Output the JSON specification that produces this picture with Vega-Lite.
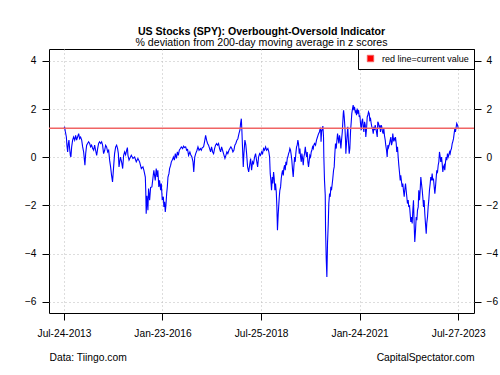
{
 "$schema": "https://vega.github.io/schema/vega-lite/v6.json",
 "width": 425,
 "height": 264,
 "autosize": "none",
 "padding": {"left": 49, "top": 49, "right": 26, "bottom": 62},
 "background": "white",
 "title": {"text": "US Stocks (SPY): Overbought-Oversold Indicator", "subtitle": "% deviation from 200-day moving average in z scores", "anchor": "middle", "font": "Liberation Sans", "fontSize": 10.6, "fontWeight": "bold", "color": "black", "subtitleFont": "Liberation Sans", "subtitleFontSize": 10.6, "subtitleColor": "black", "subtitlePadding": 0, "offset": 0},
 "config": {
  "view": {"stroke": "black", "strokeWidth": 1},
  "font": "Liberation Sans",
  "axis": {"labelFont": "Liberation Sans", "labelFontSize": 10.2, "labelColor": "black", "tickColor": "black", "tickSize": 7, "tickWidth": 1, "domain": false, "gridColor": "#bbbbbb", "gridDash": [1, 3], "gridWidth": 1, "titleFont": "Liberation Sans", "titleFontSize": 10.3, "titleFontWeight": "normal", "titleColor": "black"}
 },
 "datasets": {"spy": [
{"d":"2013-07-24","z":1.2},{"d":"2013-07-30","z":1.24},{"d":"2013-08-06","z":1.05},{"d":"2013-08-15","z":0.84},{"d":"2013-08-20","z":0.5},{"d":"2013-08-27","z":0.22},{"d":"2013-09-02","z":0.57},{"d":"2013-09-08","z":0.71},{"d":"2013-09-14","z":0.36},{"d":"2013-09-21","z":0.08},{"d":"2013-09-26","z":0.01},{"d":"2013-10-03","z":0.43},{"d":"2013-10-12","z":0.71},{"d":"2013-10-21","z":0.84},{"d":"2013-10-31","z":0.71},{"d":"2013-11-09","z":0.91},{"d":"2013-11-18","z":0.71},{"d":"2013-11-27","z":0.84},{"d":"2013-12-07","z":0.98},{"d":"2013-12-16","z":0.77},{"d":"2013-12-25","z":0.84},
{"d":"2014-01-04","z":0.71},{"d":"2014-01-13","z":0.43},{"d":"2014-01-22","z":0.22},{"d":"2014-02-03","z":-0.33},{"d":"2014-02-10","z":0.15},{"d":"2014-02-19","z":0.5},{"d":"2014-02-28","z":0.57},{"d":"2014-03-09","z":0.64},{"d":"2014-03-19","z":0.57},{"d":"2014-03-28","z":0.43},{"d":"2014-04-06","z":0.5},{"d":"2014-04-16","z":0.36},{"d":"2014-04-25","z":0.29},{"d":"2014-05-04","z":0.5},{"d":"2014-05-13","z":0.29},{"d":"2014-05-23","z":0.08},{"d":"2014-06-01","z":0.36},{"d":"2014-06-10","z":0.57},{"d":"2014-06-19","z":0.64},{"d":"2014-06-29","z":0.57},{"d":"2014-07-08","z":0.64},{"d":"2014-07-17","z":0.5},{"d":"2014-07-26","z":0.15},{"d":"2014-08-05","z":0.29},{"d":"2014-08-14","z":0.5},{"d":"2014-08-23","z":0.43},{"d":"2014-09-02","z":0.22},{"d":"2014-09-11","z":0.29},{"d":"2014-09-20","z":-0.12},{"d":"2014-09-29","z":-0.4},{"d":"2014-10-08","z":-0.75},{"d":"2014-10-17","z":-1.02},{"d":"2014-10-27","z":-0.4},{"d":"2014-11-05","z":0.15},{"d":"2014-11-15","z":0.43},{"d":"2014-11-24","z":0.5},{"d":"2014-12-03","z":0.36},{"d":"2014-12-10","z":0.15},{"d":"2014-12-16","z":-0.4},{"d":"2014-12-29","z":0.01},
{"d":"2015-01-09","z":-0.19},{"d":"2015-01-19","z":-0.47},{"d":"2015-01-28","z":0.08},{"d":"2015-02-06","z":0.22},{"d":"2015-02-15","z":0.1},{"d":"2015-02-25","z":0.29},{"d":"2015-03-04","z":0.4},{"d":"2015-03-09","z":0.08},{"d":"2015-03-19","z":-0.12},{"d":"2015-04-09","z":0.08},{"d":"2015-04-24","z":-0.05},{"d":"2015-05-10","z":0.01},{"d":"2015-05-25","z":-0.19},{"d":"2015-06-09","z":-0.05},{"d":"2015-06-25","z":-0.19},{"d":"2015-07-11","z":-0.47},{"d":"2015-07-26","z":-0.4},{"d":"2015-08-04","z":-0.54},{"d":"2015-08-17","z":-0.82},{"d":"2015-08-21","z":-1.4},{"d":"2015-08-25","z":-2.34},{"d":"2015-09-01","z":-1.6},{"d":"2015-09-04","z":-1.78},{"d":"2015-09-10","z":-2.2},{"d":"2015-09-16","z":-1.3},{"d":"2015-09-26","z":-1.78},{"d":"2015-10-05","z":-1.25},{"d":"2015-10-17","z":-1.23},{"d":"2015-10-26","z":-0.88},{"d":"2015-11-04","z":-0.54},{"d":"2015-11-17","z":-0.96},{"d":"2015-11-26","z":-0.47},{"d":"2015-12-05","z":-0.82},{"d":"2015-12-11","z":-0.54},{"d":"2015-12-20","z":-1.23},{"d":"2015-12-27","z":-0.96},
{"d":"2016-01-06","z":-1.37},{"d":"2016-01-12","z":-1.09},{"d":"2016-01-21","z":-1.78},{"d":"2016-01-31","z":-1.64},{"d":"2016-02-05","z":-2.06},{"d":"2016-02-12","z":-1.85},{"d":"2016-02-18","z":-2.27},{"d":"2016-02-24","z":-1.99},{"d":"2016-03-02","z":-1.5},{"d":"2016-03-08","z":-1.23},{"d":"2016-03-14","z":-0.82},{"d":"2016-03-23","z":-0.68},{"d":"2016-03-29","z":-0.47},{"d":"2016-04-08","z":-0.33},{"d":"2016-04-14","z":-0.19},{"d":"2016-04-23","z":-0.12},{"d":"2016-05-03","z":0.01},{"d":"2016-05-12","z":-0.12},{"d":"2016-05-21","z":0.15},{"d":"2016-05-31","z":-0.05},{"d":"2016-06-09","z":0.22},{"d":"2016-06-18","z":0.08},{"d":"2016-06-27","z":0.29},{"d":"2016-07-07","z":0.36},{"d":"2016-07-16","z":0.43},{"d":"2016-07-28","z":0.36},{"d":"2016-08-06","z":0.46},{"d":"2016-08-15","z":0.4},{"d":"2016-08-25","z":0.43},{"d":"2016-09-03","z":0.29},{"d":"2016-09-12","z":0.32},{"d":"2016-09-21","z":0.08},{"d":"2016-10-03","z":0.22},{"d":"2016-10-13","z":0.08},{"d":"2016-10-22","z":0.01},{"d":"2016-11-01","z":-0.19},{"d":"2016-11-08","z":-0.61},{"d":"2016-11-17","z":0.01},{"d":"2016-11-26","z":0.15},{"d":"2016-12-08","z":0.29},{"d":"2016-12-17","z":0.43},{"d":"2016-12-27","z":0.29},
{"d":"2017-01-08","z":0.36},{"d":"2017-01-17","z":0.29},{"d":"2017-01-26","z":0.4},{"d":"2017-02-07","z":0.43},{"d":"2017-02-16","z":0.64},{"d":"2017-02-26","z":0.91},{"d":"2017-03-07","z":0.71},{"d":"2017-03-16","z":0.57},{"d":"2017-03-25","z":0.5},{"d":"2017-04-04","z":0.36},{"d":"2017-04-13","z":0.22},{"d":"2017-04-22","z":0.43},{"d":"2017-05-02","z":0.22},{"d":"2017-05-11","z":0.15},{"d":"2017-05-20","z":0.36},{"d":"2017-05-29","z":0.5},{"d":"2017-06-08","z":0.57},{"d":"2017-06-17","z":0.5},{"d":"2017-06-26","z":0.57},{"d":"2017-07-05","z":0.36},{"d":"2017-07-15","z":0.22},{"d":"2017-07-24","z":0.43},{"d":"2017-08-02","z":0.29},{"d":"2017-08-11","z":0.15},{"d":"2017-08-24","z":-0.05},{"d":"2017-09-02","z":0.08},{"d":"2017-09-11","z":0.22},{"d":"2017-09-20","z":0.15},{"d":"2017-09-30","z":0.29},{"d":"2017-10-09","z":0.36},{"d":"2017-10-18","z":0.43},{"d":"2017-10-27","z":0.36},{"d":"2017-11-06","z":0.22},{"d":"2017-11-15","z":0.29},{"d":"2017-11-24","z":0.5},{"d":"2017-12-03","z":0.57},{"d":"2017-12-13","z":0.71},{"d":"2017-12-22","z":0.77},
{"d":"2018-01-01","z":0.98},{"d":"2018-01-10","z":1.12},{"d":"2018-01-16","z":1.4},{"d":"2018-01-23","z":1.6},{"d":"2018-01-28","z":1.12},{"d":"2018-02-04","z":0.29},{"d":"2018-02-10","z":-0.4},{"d":"2018-02-16","z":0.15},{"d":"2018-02-25","z":0.71},{"d":"2018-03-06","z":0.5},{"d":"2018-03-13","z":0.15},{"d":"2018-03-22","z":-0.4},{"d":"2018-04-01","z":-0.61},{"d":"2018-04-10","z":-0.33},{"d":"2018-04-19","z":-0.05},{"d":"2018-04-28","z":-0.54},{"d":"2018-05-07","z":-0.19},{"d":"2018-05-16","z":-0.26},{"d":"2018-05-26","z":0.01},{"d":"2018-06-04","z":0.15},{"d":"2018-06-13","z":-0.12},{"d":"2018-06-23","z":-0.4},{"d":"2018-07-02","z":0.01},{"d":"2018-07-11","z":0.15},{"d":"2018-07-20","z":0.08},{"d":"2018-07-30","z":0.22},{"d":"2018-08-08","z":0.15},{"d":"2018-08-17","z":0.36},{"d":"2018-08-26","z":0.29},{"d":"2018-09-05","z":0.43},{"d":"2018-09-14","z":0.29},{"d":"2018-09-26","z":0.36},{"d":"2018-10-05","z":0.22},{"d":"2018-10-12","z":0.01},{"d":"2018-10-18","z":-0.68},{"d":"2018-10-24","z":-0.96},{"d":"2018-10-30","z":-1.37},{"d":"2018-11-06","z":-0.82},{"d":"2018-11-11","z":-1.09},{"d":"2018-11-18","z":-0.61},{"d":"2018-11-24","z":-0.88},{"d":"2018-11-30","z":-1.37},{"d":"2018-12-06","z":-1.09},{"d":"2018-12-13","z":-1.44},{"d":"2018-12-18","z":-1.99},{"d":"2018-12-21","z":-2.48},{"d":"2018-12-24","z":-3.03},{"d":"2018-12-31","z":-2.34},
{"d":"2019-01-10","z":-1.64},{"d":"2019-01-15","z":-1.37},{"d":"2019-01-22","z":-1.23},{"d":"2019-01-28","z":-0.88},{"d":"2019-02-03","z":-0.68},{"d":"2019-02-09","z":-0.54},{"d":"2019-02-16","z":-0.75},{"d":"2019-02-21","z":-0.47},{"d":"2019-02-28","z":-0.33},{"d":"2019-03-06","z":-0.54},{"d":"2019-03-12","z":-0.19},{"d":"2019-03-18","z":-0.33},{"d":"2019-03-25","z":-0.05},{"d":"2019-03-30","z":0.01},{"d":"2019-04-06","z":0.15},{"d":"2019-04-12","z":0.22},{"d":"2019-04-18","z":0.36},{"d":"2019-04-24","z":0.29},{"d":"2019-05-01","z":0.08},{"d":"2019-05-06","z":-0.12},{"d":"2019-05-13","z":-0.54},{"d":"2019-05-19","z":-0.82},{"d":"2019-05-25","z":-0.4},{"d":"2019-06-01","z":0.01},{"d":"2019-06-07","z":-0.19},{"d":"2019-06-12","z":0.15},{"d":"2019-06-19","z":0.43},{"d":"2019-06-25","z":0.5},{"d":"2019-07-01","z":0.71},{"d":"2019-07-07","z":0.57},{"d":"2019-07-14","z":0.15},{"d":"2019-07-20","z":0.36},{"d":"2019-07-26","z":0.01},{"d":"2019-08-02","z":-0.19},{"d":"2019-08-07","z":0.15},{"d":"2019-08-14","z":-0.05},{"d":"2019-08-20","z":-0.33},{"d":"2019-08-26","z":0.01},{"d":"2019-09-01","z":0.15},{"d":"2019-09-08","z":0.43},{"d":"2019-09-13","z":0.22},{"d":"2019-09-20","z":0.01},{"d":"2019-09-26","z":0.22},{"d":"2019-10-02","z":-0.19},{"d":"2019-10-08","z":-0.4},{"d":"2019-10-15","z":-0.12},{"d":"2019-10-20","z":0.08},{"d":"2019-10-27","z":0.01},{"d":"2019-11-02","z":0.22},{"d":"2019-11-08","z":0.29},{"d":"2019-11-14","z":0.43},{"d":"2019-11-21","z":0.36},{"d":"2019-11-26","z":0.5},{"d":"2019-12-03","z":0.57},{"d":"2019-12-12","z":0.5},{"d":"2019-12-21","z":0.71},{"d":"2019-12-30","z":0.84},
{"d":"2020-01-09","z":0.98},{"d":"2020-01-17","z":1.05},{"d":"2020-01-24","z":1.19},{"d":"2020-01-29","z":1.12},{"d":"2020-02-01","z":0.64},{"d":"2020-02-06","z":1.05},{"d":"2020-02-12","z":1.19},{"d":"2020-02-18","z":1.29},{"d":"2020-02-24","z":0.84},{"d":"2020-02-27","z":0.01},{"d":"2020-03-04","z":-0.95},{"d":"2020-03-11","z":-1.58},{"d":"2020-03-14","z":-3.03},{"d":"2020-03-20","z":-4.2},{"d":"2020-03-26","z":-4.97},{"d":"2020-04-01","z":-3.58},{"d":"2020-04-08","z":-2.75},{"d":"2020-04-13","z":-1.92},{"d":"2020-04-20","z":-1.51},{"d":"2020-04-26","z":-1.64},{"d":"2020-05-02","z":-1.23},{"d":"2020-05-08","z":-1.37},{"d":"2020-05-15","z":-1.09},{"d":"2020-05-20","z":-0.88},{"d":"2020-05-27","z":-0.54},{"d":"2020-06-02","z":-0.4},{"d":"2020-06-08","z":0.15},{"d":"2020-06-14","z":0.57},{"d":"2020-06-21","z":0.36},{"d":"2020-06-26","z":0.64},{"d":"2020-07-03","z":0.98},{"d":"2020-07-09","z":0.77},{"d":"2020-07-15","z":0.57},{"d":"2020-07-21","z":0.91},{"d":"2020-07-28","z":0.71},{"d":"2020-08-03","z":0.36},{"d":"2020-08-09","z":0.71},{"d":"2020-08-16","z":1.05},{"d":"2020-08-21","z":1.47},{"d":"2020-08-25","z":1.81},{"d":"2020-08-28","z":1.95},{"d":"2020-09-03","z":1.67},{"d":"2020-09-09","z":1.26},{"d":"2020-09-15","z":0.71},{"d":"2020-09-18","z":0.15},{"d":"2020-09-24","z":0.57},{"d":"2020-10-01","z":0.98},{"d":"2020-10-06","z":1.26},{"d":"2020-10-13","z":0.57},{"d":"2020-10-19","z":0.15},{"d":"2020-10-25","z":0.36},{"d":"2020-11-01","z":1.12},{"d":"2020-11-07","z":1.47},{"d":"2020-11-12","z":1.81},{"d":"2020-11-19","z":2.02},{"d":"2020-11-25","z":2.16},{"d":"2020-12-01","z":1.95},{"d":"2020-12-07","z":2.09},{"d":"2020-12-14","z":1.88},{"d":"2020-12-20","z":1.95},{"d":"2020-12-26","z":1.74},
{"d":"2021-01-01","z":2.02},{"d":"2021-01-07","z":1.81},{"d":"2021-01-14","z":1.95},{"d":"2021-01-20","z":1.67},{"d":"2021-01-26","z":1.74},{"d":"2021-02-01","z":1.4},{"d":"2021-02-08","z":1.12},{"d":"2021-02-13","z":1.47},{"d":"2021-02-20","z":1.6},{"d":"2021-02-26","z":1.26},{"d":"2021-03-04","z":1.05},{"d":"2021-03-10","z":1.47},{"d":"2021-03-17","z":1.33},{"d":"2021-03-22","z":0.84},{"d":"2021-03-29","z":1.19},{"d":"2021-04-04","z":1.67},{"d":"2021-04-10","z":1.74},{"d":"2021-04-16","z":1.88},{"d":"2021-04-23","z":1.81},{"d":"2021-04-28","z":1.54},{"d":"2021-05-05","z":1.6},{"d":"2021-05-11","z":1.4},{"d":"2021-05-17","z":1.26},{"d":"2021-05-23","z":1.19},{"d":"2021-05-30","z":0.98},{"d":"2021-06-04","z":1.26},{"d":"2021-06-11","z":1.12},{"d":"2021-06-17","z":1.33},{"d":"2021-06-23","z":1.19},{"d":"2021-06-29","z":1.05},{"d":"2021-07-06","z":0.84},{"d":"2021-07-11","z":1.47},{"d":"2021-07-18","z":1.4},{"d":"2021-07-24","z":1.26},{"d":"2021-07-30","z":1.33},{"d":"2021-08-05","z":1.05},{"d":"2021-08-12","z":1.33},{"d":"2021-08-17","z":1.26},{"d":"2021-08-24","z":1.05},{"d":"2021-08-30","z":0.98},{"d":"2021-09-05","z":1.19},{"d":"2021-09-11","z":0.9},{"d":"2021-09-18","z":0.71},{"d":"2021-09-23","z":0.5},{"d":"2021-09-30","z":0.29},{"d":"2021-10-06","z":0.01},{"d":"2021-10-12","z":0.5},{"d":"2021-10-18","z":0.4},{"d":"2021-10-28","z":0.57},{"d":"2021-11-03","z":0.71},{"d":"2021-11-09","z":0.84},{"d":"2021-11-15","z":0.5},{"d":"2021-11-22","z":0.64},{"d":"2021-11-27","z":0.98},{"d":"2021-12-04","z":0.71},{"d":"2021-12-10","z":0.77},{"d":"2021-12-16","z":0.71},{"d":"2021-12-22","z":0.84},{"d":"2021-12-29","z":0.57},
{"d":"2022-01-03","z":0.22},{"d":"2022-01-10","z":0.43},{"d":"2022-01-16","z":0.01},{"d":"2022-01-22","z":-0.33},{"d":"2022-01-28","z":-0.61},{"d":"2022-02-04","z":-0.96},{"d":"2022-02-09","z":-0.75},{"d":"2022-02-16","z":-1.02},{"d":"2022-02-22","z":-1.23},{"d":"2022-02-28","z":-1.09},{"d":"2022-03-06","z":-1.37},{"d":"2022-03-13","z":-1.64},{"d":"2022-03-18","z":-1.37},{"d":"2022-03-25","z":-1.09},{"d":"2022-03-31","z":-1.37},{"d":"2022-04-06","z":-1.64},{"d":"2022-04-12","z":-1.92},{"d":"2022-04-19","z":-1.78},{"d":"2022-04-24","z":-2.06},{"d":"2022-05-01","z":-1.99},{"d":"2022-05-07","z":-2.34},{"d":"2022-05-13","z":-2.68},{"d":"2022-05-19","z":-2.48},{"d":"2022-05-26","z":-2.75},{"d":"2022-06-01","z":-2.2},{"d":"2022-06-07","z":-1.78},{"d":"2022-06-14","z":-2.89},{"d":"2022-06-19","z":-3.51},{"d":"2022-06-26","z":-3.03},{"d":"2022-07-02","z":-2.48},{"d":"2022-07-08","z":-2.61},{"d":"2022-07-14","z":-2.2},{"d":"2022-07-21","z":-2.06},{"d":"2022-07-26","z":-1.37},{"d":"2022-08-02","z":-1.78},{"d":"2022-08-08","z":-1.37},{"d":"2022-08-14","z":-0.82},{"d":"2022-08-20","z":-1.09},{"d":"2022-08-27","z":-1.37},{"d":"2022-09-01","z":-1.64},{"d":"2022-09-08","z":-2.06},{"d":"2022-09-14","z":-1.78},{"d":"2022-09-20","z":-2.34},{"d":"2022-09-26","z":-2.75},{"d":"2022-10-03","z":-3.17},{"d":"2022-10-08","z":-2.75},{"d":"2022-10-15","z":-2.48},{"d":"2022-10-21","z":-2.06},{"d":"2022-10-27","z":-1.78},{"d":"2022-11-02","z":-1.37},{"d":"2022-11-09","z":-1.09},{"d":"2022-11-14","z":-0.82},{"d":"2022-11-21","z":-0.96},{"d":"2022-11-27","z":-0.68},{"d":"2022-12-03","z":-0.96},{"d":"2022-12-09","z":-0.88},{"d":"2022-12-16","z":-1.23},{"d":"2022-12-22","z":-1.51},{"d":"2022-12-28","z":-1.23},
{"d":"2023-01-04","z":-0.82},{"d":"2023-01-09","z":-0.54},{"d":"2023-01-16","z":-0.61},{"d":"2023-01-22","z":-0.33},{"d":"2023-01-28","z":-0.19},{"d":"2023-02-03","z":0.22},{"d":"2023-02-10","z":0.01},{"d":"2023-02-15","z":-0.19},{"d":"2023-02-22","z":0.01},{"d":"2023-02-28","z":-0.26},{"d":"2023-03-06","z":-0.61},{"d":"2023-03-12","z":-0.4},{"d":"2023-03-19","z":-0.33},{"d":"2023-03-24","z":-0.54},{"d":"2023-03-31","z":-0.19},{"d":"2023-04-06","z":0.01},{"d":"2023-04-12","z":-0.12},{"d":"2023-04-18","z":0.15},{"d":"2023-04-25","z":0.01},{"d":"2023-04-30","z":0.08},{"d":"2023-05-07","z":0.22},{"d":"2023-05-13","z":0.15},{"d":"2023-05-19","z":0.29},{"d":"2023-05-25","z":0.36},{"d":"2023-06-01","z":0.57},{"d":"2023-06-06","z":0.64},{"d":"2023-06-13","z":0.77},{"d":"2023-06-19","z":0.98},{"d":"2023-06-25","z":1.19},{"d":"2023-07-01","z":1.05},{"d":"2023-07-08","z":1.26},{"d":"2023-07-13","z":1.4},{"d":"2023-07-20","z":1.33},{"d":"2023-07-27","z":1.2}
 ]},
 "layer": [
  {
   "data": {"name": "spy"},
   "mark": {"type": "line", "color": "#0000ff", "strokeWidth": 1.1},
   "encoding": {
    "x": {"field": "d", "type": "temporal",
     "scale": {"type": "utc", "domain": [{"year": 2013, "month": 3, "date": 7, "utc": true}, {"year": 2023, "month": 12, "date": 20, "utc": true}]},
     "axis": {"orient": "bottom", "values": [{"year": 2013, "month": 7, "date": 24, "utc": true}, {"year": 2016, "month": 1, "date": 23, "utc": true}, {"year": 2018, "month": 7, "date": 25, "utc": true}, {"year": 2021, "month": 1, "date": 24, "utc": true}, {"year": 2023, "month": 7, "date": 27, "utc": true}],
      "format": "%b-%d-%Y", "labelPadding": 8, "labelFlush": false, "labelOverlap": false, "grid": true,
      "title": "Data: Tiingo.com", "titleAnchor": "start", "titlePadding": 14}},
    "y": {"field": "z", "type": "quantitative",
     "scale": {"domain": [-6.46, 4.49], "nice": false, "zero": false},
     "axis": {"orient": "left", "values": [-6, -4, -2, 0, 2, 4], "title": null, "labelPadding": 6, "grid": true}}
   }
  },
  {
   "data": {"name": "spy"},
   "mark": {"type": "line", "opacity": 0},
   "encoding": {
    "x": {"field": "d", "type": "temporal",
     "axis": {"orient": "bottom", "values": [{"year": 2013, "month": 7, "date": 24, "utc": true}, {"year": 2016, "month": 1, "date": 23, "utc": true}, {"year": 2018, "month": 7, "date": 25, "utc": true}, {"year": 2021, "month": 1, "date": 24, "utc": true}, {"year": 2023, "month": 7, "date": 27, "utc": true}],
      "format": "%b-%d-%Y", "labelPadding": 8, "labelFlush": false, "labelOverlap": false, "grid": false, "labelOpacity": 0, "tickOpacity": 0,
      "title": "CapitalSpectator.com", "titleAnchor": "end", "titlePadding": 14}},
    "y": {"field": "z", "type": "quantitative", "axis": null}
   }
  },
  {
   "data": {"values": [{"z": 1.2, "k": "red line=current value"}]},
   "mark": {"type": "rule", "strokeWidth": 1.6},
   "encoding": {
    "y": {"field": "z", "type": "quantitative",
     "axis": {"orient": "right", "values": [-6, -4, -2, 0, 2, 4], "title": null, "labelPadding": 5, "grid": false}},
    "stroke": {"field": "k", "type": "nominal", "scale": {"range": ["#f06464"]},
     "legend": {"orient": "top-right", "offset": 0, "title": null, "padding": 5, "strokeColor": "black", "fillColor": "white", "cornerRadius": 0,
      "symbolType": "square", "symbolSize": 42, "symbolOffset": 3, "labelOffset": 7, "labelFont": "Liberation Sans", "labelFontSize": 9, "labelColor": "black",
      "encode": {"symbols": {"update": {"fill": {"value": "#ff0000"}, "stroke": {"value": "black"}, "strokeWidth": {"value": 0.8}, "opacity": {"value": 1}}}}}}
   }
  }
 ],
 "resolve": {"axis": {"x": "independent", "y": "independent"}}
}
